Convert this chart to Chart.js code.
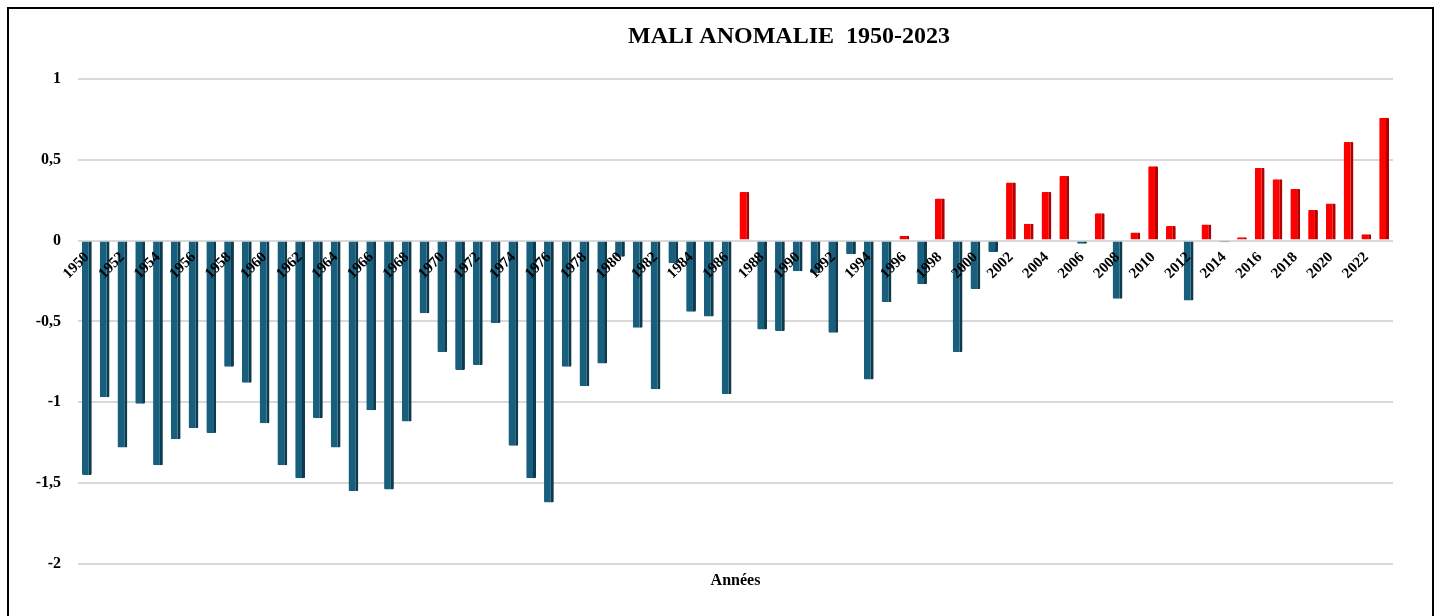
<!DOCTYPE html>
<html>
<head>
<meta charset="utf-8">
<script src="https://cdn.jsdelivr.net/npm/chart.js@4"></script>
<style>
  body { margin: 0; background: #fff; overflow: hidden; }
  #frame { position: absolute; left: 7px; top: 7px; width: 1423px; height: 620px; border: 2px solid #000; }
</style>
</head>
<body>
<div id="frame"><canvas id="chartMali" width="1423" height="607"></canvas></div>
<script>
// Années 1950-2023
const annees = [
  1950, 1951, 1952, 1953, 1954, 1955, 1956, 1957, 1958, 1959,
  1960, 1961, 1962, 1963, 1964, 1965, 1966, 1967, 1968, 1969,
  1970, 1971, 1972, 1973, 1974, 1975, 1976, 1977, 1978, 1979,
  1980, 1981, 1982, 1983, 1984, 1985, 1986, 1987, 1988, 1989,
  1990, 1991, 1992, 1993, 1994, 1995, 1996, 1997, 1998, 1999,
  2000, 2001, 2002, 2003, 2004, 2005, 2006, 2007, 2008, 2009,
  2010, 2011, 2012, 2013, 2014, 2015, 2016, 2017, 2018, 2019,
  2020, 2021, 2022, 2023
];

// Anomalie (°C)
const anomalie = [
  -1.45, -0.97, -1.28, -1.01, -1.39, -1.23, -1.16, -1.19, -0.78, -0.88,
  -1.13, -1.39, -1.47, -1.10, -1.28, -1.55, -1.05, -1.54, -1.12, -0.45,
  -0.69, -0.80, -0.77, -0.51, -1.27, -1.47, -1.62, -0.78, -0.90, -0.76,
  -0.10, -0.54, -0.92, -0.14, -0.44, -0.47, -0.95, 0.30, -0.55, -0.56,
  -0.19, -0.20, -0.57, -0.085, -0.86, -0.38, 0.03, -0.27, 0.26, -0.69,
  -0.30, -0.07, 0.36, 0.105, 0.30, 0.40, -0.02, 0.17, -0.36, 0.05,
  0.46, 0.09, -0.37, 0.10, -0.01, 0.02, 0.45, 0.38, 0.32, 0.19,
  0.23, 0.61, 0.04, 0.76
];

const yTicks = [1, 0.5, 0, -0.5, -1, -1.5, -2];

const serif = "'Liberation Serif', 'Times New Roman', serif";

// titre dessiné à la main (décalé comme dans l'original)
const titrePlugin = {
  id: 'titreMali',
  afterDraw(chart) {
    const c = chart.ctx;
    c.save();
    c.font = "bold 24px " + serif;
    c.fillStyle = '#000';
    c.textAlign = 'center';
    c.textBaseline = 'middle';
    c.fillText('MALI ANOMALIE  1950-2023', 780, 28);
    c.restore();
  }
};

const ctxMali = document.getElementById("chartMali");
new Chart(ctxMali, {
  type: 'bar',
  data: {
    labels: annees,
    datasets: [{
      data: anomalie,
      backgroundColor: (ctx) => ctx.raw >= 0 ? '#ff0000' : '#185f7d',
      borderColor: (ctx) => ctx.raw >= 0 ? '#b00000' : '#0d3a4d',
      borderWidth: { right: 3, top: 0, bottom: 0, left: 0 },
      borderRadius: 1,
      categoryPercentage: 1,
      barPercentage: 0.55,
    }],
  },
  options: {
    responsive: false,
    animation: false,
    layout: { padding: { top: 70, right: 39, left: 0, bottom: 0 } },
    plugins: {
      legend: { display: false },
      tooltip: { enabled: false },
      title: { display: false },
      subtitle: {
        display: true,
        position: 'bottom',
        fullSize: false,
        text: 'Années',
        color: '#000',
        font: { family: serif, size: 16, weight: 'bold' },
        padding: { top: 7, bottom: 26 },
      },
    },
    scales: {
      x: {
        position: { y: 0 },
        grid: { display: false },
        border: { display: false },
        ticks: {
          z: 1,
          autoSkip: false,
          maxRotation: 45,
          minRotation: 45,
          padding: 0,
          color: '#000',
          font: { family: serif, size: 15, weight: 'bold' },
          callback: function (val, i) { return i % 2 === 0 ? annees[i] : ''; },
        },
      },
      y: {
        min: -2,
        max: 1,
        afterFit: (scale) => { scale.width = 69; },
        afterBuildTicks: (scale) => { scale.ticks = yTicks.map(v => ({ value: v })); },
        grid: { color: '#d9d9d9', lineWidth: 2, drawTicks: false },
        border: { display: false },
        ticks: {
          padding: 17,
          color: '#000',
          font: { family: serif, size: 16, weight: 'bold' },
          callback: (v) => String(v).replace('.', ','),
        },
      },
    },
  },
  plugins: [titrePlugin],
});
</script>
</body>
</html>
